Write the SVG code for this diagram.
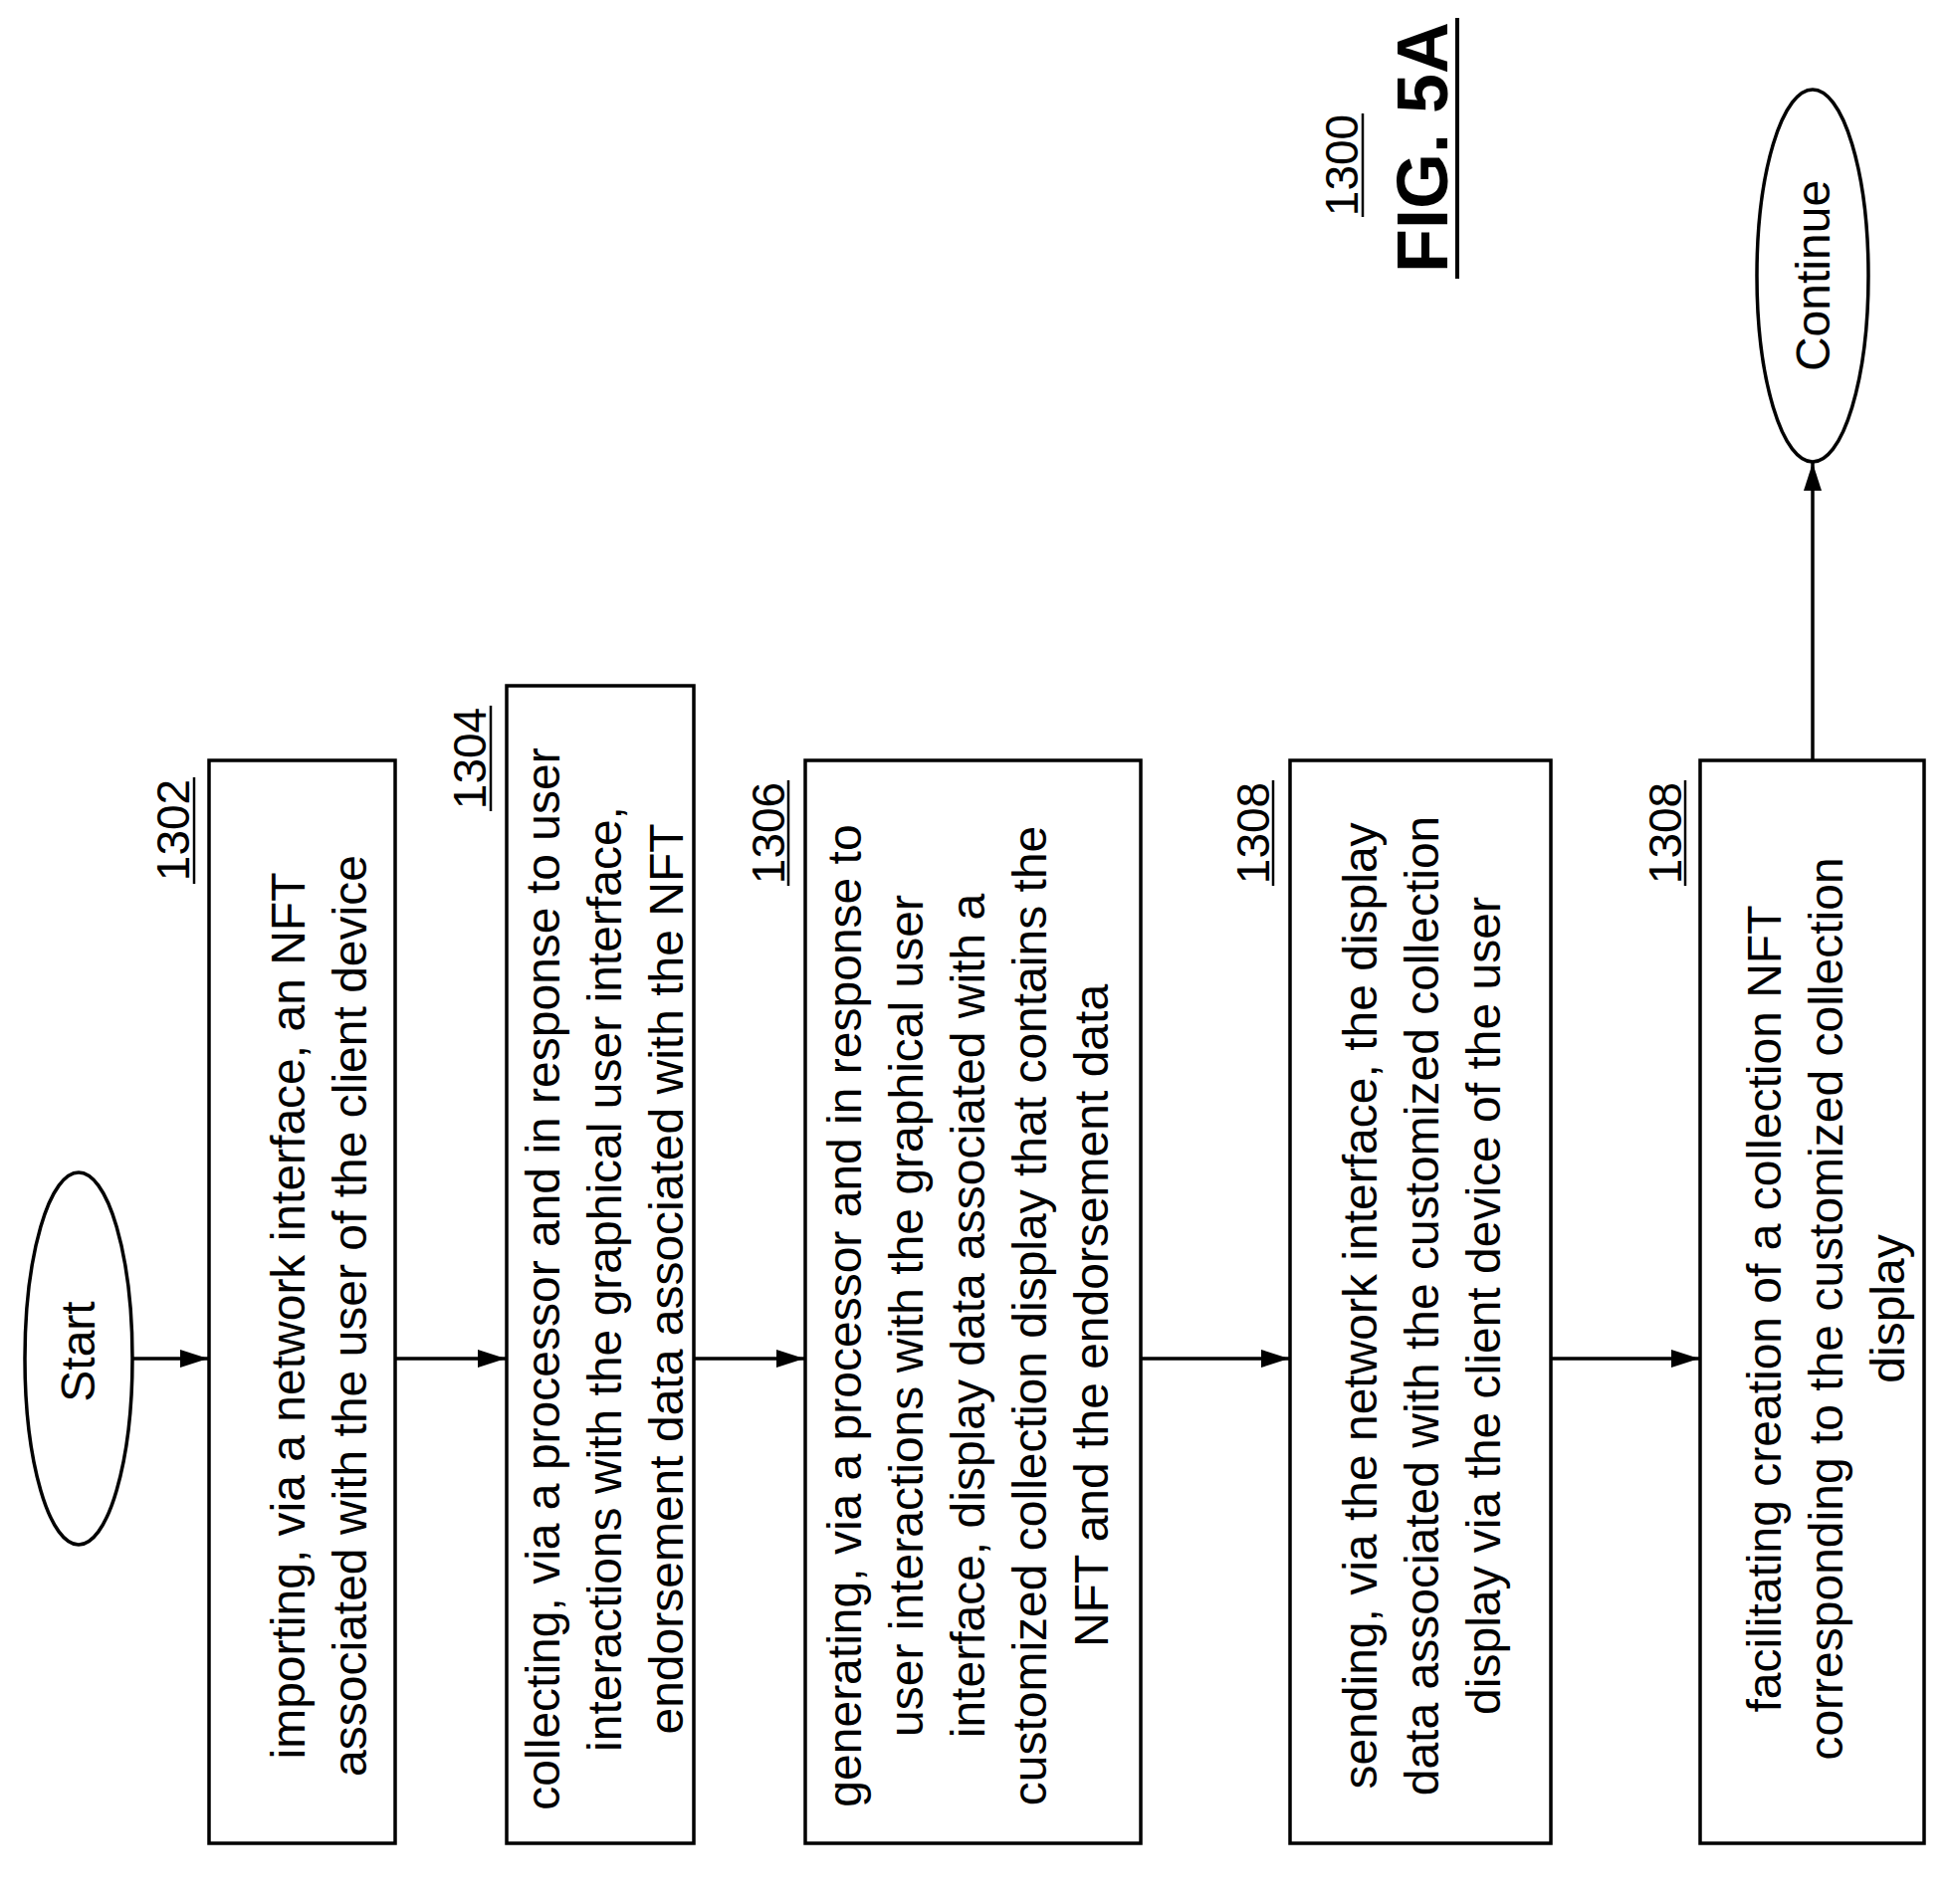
<svg xmlns="http://www.w3.org/2000/svg" width="1958" height="1913" viewBox="0 0 1958 1913">
<defs>
<marker id="ah" markerWidth="28" markerHeight="18" refX="28" refY="9" orient="auto" markerUnits="userSpaceOnUse" viewBox="0 0 28 18">
<path d="M0,0 L28,9 L0,18 Z" fill="#000"/>
</marker>
<style>
.b{fill:#fff;stroke:#000;stroke-width:3.5}
.t{font-family:"Liberation Sans",Arial,sans-serif;font-size:48px;text-anchor:middle;fill:#000}
.n{font-family:"Liberation Sans",Arial,sans-serif;font-size:46px;text-anchor:middle;fill:#000}
.u{stroke:#000;stroke-width:2.5}
.c{stroke:#000;stroke-width:3.5;fill:none;marker-end:url(#ah)}
</style>
</defs>
<rect width="1958" height="1913" fill="#fff"/>
<g id="title">
<text class="n" transform="translate(1364,166) rotate(-90)">1300</text>
<line class="u" x1="1369" y1="114" x2="1369" y2="218"/>
<text class="t" style="font-size:72px;font-weight:bold" transform="translate(1454,148) rotate(-90)">FIG. 5A</text>
<line class="u" style="stroke-width:4" x1="1464" y1="18" x2="1464" y2="280"/>
</g>
<g id="start">
<ellipse class="b" cx="79" cy="1365" rx="54" ry="187"/>
<text class="t" transform="translate(95,1358) rotate(-90)">Start</text>
</g>
<g id="n1302">
<rect class="b" x="210" y="764" width="187" height="1088"/>
<text class="t" transform="translate(306,1322) rotate(-90)"><tspan x="0" y="0">importing, via a network interface, an NFT</tspan><tspan x="0" y="62">associated with the user of the client device</tspan></text>
<text class="n" transform="translate(190,834) rotate(-90)">1302</text>
<line class="u" x1="195" y1="781" x2="195" y2="888"/>
</g>
<g id="n1304">
<rect class="b" x="509" y="689" width="188" height="1163"/>
<text class="t" transform="translate(562,1285) rotate(-90)"><tspan x="0" y="0">collecting, via a processor and in response to user</tspan><tspan x="0" y="62">interactions with the graphical user interface,</tspan><tspan x="0" y="124">endorsement data associated with the NFT</tspan></text>
<text class="n" transform="translate(488,762) rotate(-90)">1304</text>
<line class="u" x1="493" y1="709" x2="493" y2="815"/>
</g>
<g id="n1306">
<rect class="b" x="809" y="764" width="337" height="1088"/>
<text class="t" transform="translate(865,1322) rotate(-90)"><tspan x="0" y="0">generating, via a processor and in response to</tspan><tspan x="0" y="62">user interactions with the graphical user</tspan><tspan x="0" y="124">interface, display data associated with a</tspan><tspan x="0" y="186">customized collection display that contains the</tspan><tspan x="0" y="248">NFT and the endorsement data</tspan></text>
<text class="n" transform="translate(788,837) rotate(-90)">1306</text>
<line class="u" x1="792" y1="784" x2="792" y2="890"/>
</g>
<g id="n1308a">
<rect class="b" x="1296" y="764" width="262" height="1088"/>
<text class="t" transform="translate(1383,1312) rotate(-90)"><tspan x="0" y="0">sending, via the network interface, the display</tspan><tspan x="0" y="62">data associated with the customized collection</tspan><tspan x="0" y="124">display via the client device of the user</tspan></text>
<text class="n" transform="translate(1275,837) rotate(-90)">1308</text>
<line class="u" x1="1279" y1="784" x2="1279" y2="890"/>
</g>
<g id="n1308b">
<rect class="b" x="1708" y="764" width="225" height="1088"/>
<text class="t" transform="translate(1789,1315) rotate(-90)"><tspan x="0" y="0">facilitating creation of a collection NFT</tspan><tspan x="0" y="62">corresponding to the customized collection</tspan><tspan x="0" y="124">display</tspan></text>
<text class="n" transform="translate(1689,837) rotate(-90)">1308</text>
<line class="u" x1="1693" y1="784" x2="1693" y2="890"/>
</g>
<g id="continue">
<ellipse class="b" cx="1821" cy="277" rx="56" ry="187"/>
<text class="t" transform="translate(1838,277) rotate(-90)">Continue</text>
</g>
<g id="connectors">
<line class="c" x1="133" y1="1365" x2="209" y2="1365"/>
<line class="c" x1="397" y1="1365" x2="508" y2="1365"/>
<line class="c" x1="697" y1="1365" x2="808" y2="1365"/>
<line class="c" x1="1146" y1="1365" x2="1295" y2="1365"/>
<line class="c" x1="1558" y1="1365" x2="1707" y2="1365"/>
<line class="c" x1="1821" y1="764" x2="1821" y2="465"/>
</g>
</svg>
